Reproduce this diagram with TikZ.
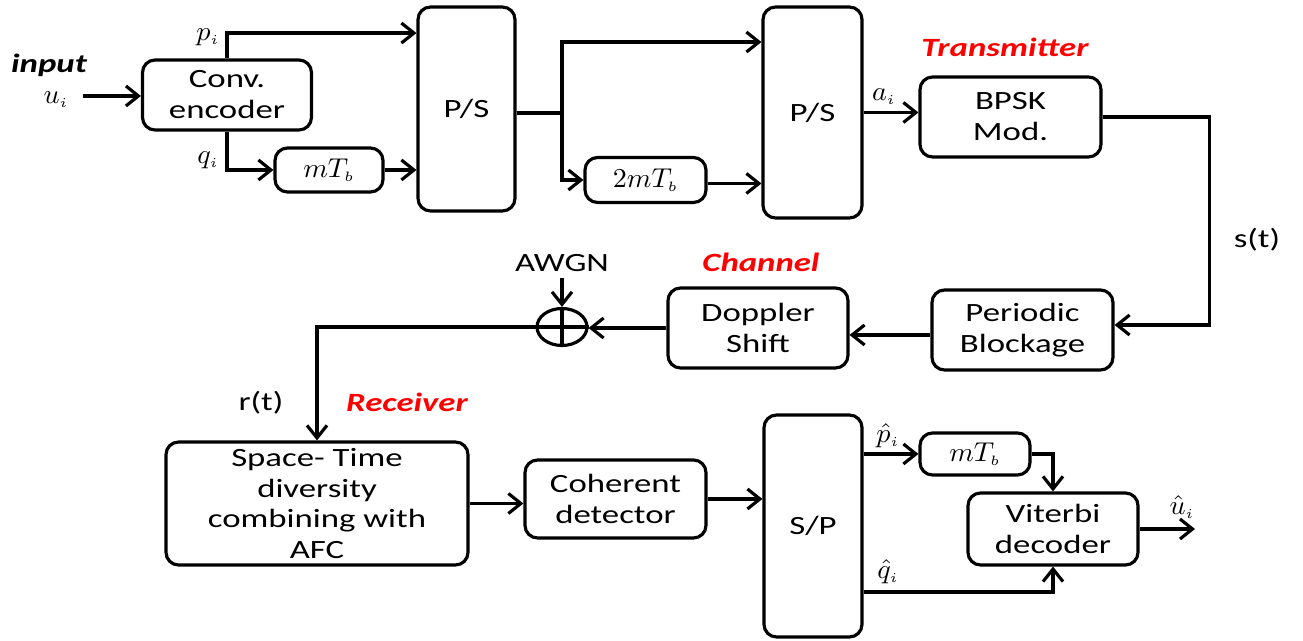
\RequirePackage{fix-cm}
\documentclass[tikz,border=0pt]{standalone}
\usepackage{fontspec}
\newfontfamily\boxfont[FakeStretch=1.32]{Carlito}
\usepackage{tikz}
\usetikzlibrary{arrows.meta, shapes.geometric, calc}

\newcommand{\boxtext}{\boxfont\fontsize{15}{17.6}\selectfont}
% maths labels
\newcommand{\wmath}[1]{\scalebox{1.6}[1.55]{\normalsize$#1$}}

\tikzset{
  blk/.style={draw, line width=1.8pt, rounded corners=0.25cm, align=center,
    font=\boxtext, inner sep=1pt},
  tag/.style={font=\boxtext},
  redtag/.style={font=\boxtext\bfseries\itshape, text=red},
  sig/.style={inner sep=0pt},
  wire/.style={line width=1.8pt},
  flow/.style={line width=1.8pt, -{Straight Barb[length=2.5mm,width=4mm]}}
}

\begin{document}
\begin{tikzpicture}[x=0.02cm, y=-0.02cm]
\useasboundingbox (0,0) rectangle (1303,641);

% transmitter
\node[blk, minimum width=3.38cm, minimum height=1.4cm] (conv) at (227,95) {Conv.\\encoder};
\node[blk, minimum width=2.16cm, minimum height=0.88cm] (mtb1) at (329,170) {\wmath{mT_{\scriptscriptstyle b}}};
\node[blk, minimum width=1.94cm, minimum height=4.08cm] (ps1) at (466.5,109) {P/S};
\node[blk, minimum width=2.42cm, minimum height=0.9cm] (tmtb) at (645.5,180) {\wmath{2mT_{\scriptscriptstyle b}}};
\node[blk, minimum width=1.98cm, minimum height=4.22cm] (ps2) at (812.5,112.5) {P/S};
\node[blk, minimum width=3.62cm, minimum height=1.6cm] (bpsk) at (1010.5,117) {BPSK\\Mod.};

% channel
\node[blk, minimum width=3.62cm, minimum height=1.6cm] (period) at (1022.5,330) {Periodic\\Blockage};
\node[blk, minimum width=3.6cm, minimum height=1.6cm] (doppler) at (758,328) {Doppler\\Shift};
\node[draw, ellipse, line width=1.8pt, minimum width=1cm, minimum height=0.74cm, inner sep=0pt] (adder) at (562,327) {};
\node[tag] (awgn) at (562,263) {AWGN};

% receiver
\node[blk, minimum width=6.04cm, minimum height=2.46cm, inner sep=0pt] (space) at (317,503.5) {Space- Time\\diversity\\combining with\\AFC};
\node[blk, minimum width=3.62cm, minimum height=1.56cm] (coh) at (615.5,499) {Coherent\\detector};
\node[blk, minimum width=1.96cm, minimum height=4.44cm] (sp) at (813,526) {S/P};
\node[blk, minimum width=2.2cm, minimum height=0.84cm] (mtb2) at (975,454) {\wmath{mT_{\scriptscriptstyle b}}};
\node[blk, minimum width=3.4cm, minimum height=1.44cm] (vit) at (1053,529) {Viterbi\\decoder};

% labels
\node[tag, font=\boxtext\bfseries\itshape] (input) at (49,65) {input};
\node[sig] (ui) at (56,100) {\wmath{u_{\scriptscriptstyle i}}};
\node[sig] (pi) at (208,37) {\wmath{p_{\scriptscriptstyle i}}};
\node[sig] (qi) at (208,160) {\wmath{q_{\scriptscriptstyle i}}};
\node[sig] (ai) at (884,97) {\wmath{a_{\scriptscriptstyle i}}};
\node[tag] (st) at (1257,240) {s(t)};
\node[tag] (rt) at (261,403) {r(t)};
\node[redtag] (txlab) at (1005,47) {Transmitter};
\node[redtag] (chlab) at (761,262) {Channel};
\node[redtag] (rxlab) at (407,402) {Receiver};
\node[sig] (phat) at (888,436) {\wmath{\hat{p}_{\scriptscriptstyle i}}};
\node[sig] (qhat) at (888,572) {\wmath{\hat{q}_{\scriptscriptstyle i}}};
\node[sig] (uhat) at (1182,507) {\wmath{\hat{u}_{\scriptscriptstyle i}}};

\coordinate (uin) at (83,96);
\coordinate (split) at (562,113);
\coordinate (uout) at (1195,529);

% connectors
\draw[flow] (uin) -- (uin -| conv.west);
\draw[flow] (conv.north) |- ([yshift=1.52cm]ps1.west);
\draw[flow] (conv.south) |- (mtb1.west);
\draw[flow] (mtb1.east) -- (mtb1.east -| ps1.west);
\draw[wire] (split -| ps1.east) -- (split);
\draw[flow] (split) |- ([yshift=1.41cm]ps2.west);
\draw[flow] (split) |- (tmtb.west);
\draw[flow] ([yshift=-0.07cm]tmtb.east) -- ([yshift=-0.07cm]tmtb.east -| ps2.west);
\draw[flow] (ps2.east) -- (ps2.east -| bpsk.west);
\draw[flow] (bpsk.east) -- ++(107,0) |- ([yshift=0.1cm]period.east);
\draw[flow] ([yshift=-0.1cm]period.west) -- ([yshift=-0.1cm]period.west -| doppler.east);
\draw[flow] (doppler.west) -- (doppler.west -| adder.east);
\draw[flow] (awgn.south) -- (adder.north);
\draw[wire] (adder.north) -- (adder.south);
\draw[flow] (adder.east) -| (space.north);
\draw[flow] (space.east) -- (space.east -| coh.west);
\draw[flow] (coh.east) -- (coh.east -| sp.west);
\draw[flow] (mtb2.west -| sp.east) -- (mtb2.west);
\draw[flow] (mtb2.east) -| (vit.north);
\draw[flow] ([yshift=-1.32cm]sp.east) -| (vit.south);
\draw[flow] (vit.east) -- (uout);
\end{tikzpicture}
\end{document}
